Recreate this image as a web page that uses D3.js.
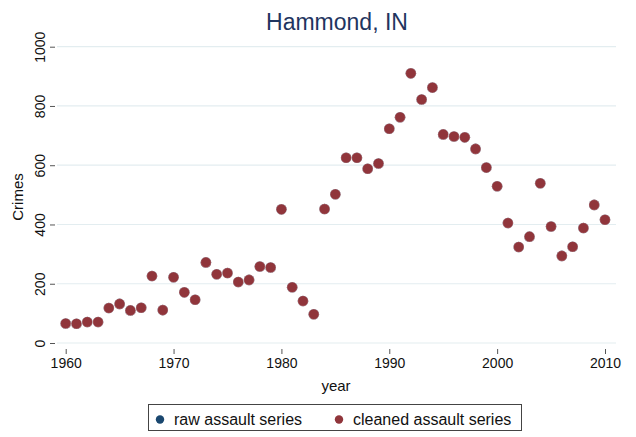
<!DOCTYPE html>
<html>
<head>
<meta charset="utf-8">
<script src="https://cdn.jsdelivr.net/npm/d3@7"></script>
<style>
  body { margin: 0; background: #fff; }
  svg { display: block; font-family: "Liberation Sans", Arial, sans-serif; }
</style>
</head>
<body>
<div class="chart"></div>
<script>
// data
const years = d3.range(1960, 2011)
const cleaned = [66, 65, 71, 71, 118, 132, 110, 119, 226, 111,
  222, 171, 146, 272, 232, 236, 206, 213, 258, 255,
  451, 188, 142, 97, 452, 502, 625, 625, 588, 606,
  723, 762, 910, 822, 862, 704, 697, 694, 655, 592,
  529, 405, 324, 359, 539, 393, 294, 325, 388, 466, 416]
// raw series sits under the cleaned one everywhere
const raw = cleaned.slice()
const yTicks = [0, 200, 400, 600, 800, 1000]
const xTicks = [1960, 1970, 1980, 1990, 2000, 2010]
const seriesNames = ["raw assault series", "cleaned assault series"]
const seriesColors = ["#1a476f", "#90353b"]

let width = 636
let height = 437

let x = d3.scaleLinear()
  .domain([1960, 2010])
  .range([65.7, 605])

let y = d3.scaleLinear()
  .domain([0, 1000])
  .range([343, 46.7])

const svg = d3.select('.chart').append("svg")
  .attr("width", width)
  .attr("height", height)

// gridlines
svg.append("g")
    .attr("stroke", "#e3edf0")
    .attr("stroke-width", 1.2)
  .selectAll("line")
  .data(yTicks)
  .join("line")
    .attr("x1", 57)
    .attr("x2", 616)
    .attr("y1", d => y(d))
    .attr("y2", d => y(d))

let xAxis = g => g
  .attr("transform", "translate(0,349)")
  .call(d3.axisBottom(x).tickValues(xTicks).tickSize(5).tickPadding(4).tickFormat(d3.format("d")))
  .call(g => g.select(".domain").remove())
  .call(g => g.selectAll(".tick line").attr("stroke", "#555"))
  .call(g => g.selectAll(".tick text").attr("font-size", 14).attr("fill", "#111"))

let yAxis = g => g
  .attr("transform", "translate(55,0)")
  .call(d3.axisLeft(y).tickValues(yTicks).tickSize(5).tickFormat(d3.format("d")))
  .call(g => g.select(".domain").remove())
  .call(g => g.selectAll(".tick line").attr("stroke", "#555"))
  .call(g => g.selectAll(".tick text")
    .attr("font-size", 14)
    .attr("fill", "#111")
    .attr("x", 0).attr("y", 0).attr("dy", 0)
    .attr("text-anchor", "middle")
    .attr("transform", "translate(-10,0) rotate(-90)"))

svg.append("g").call(xAxis)
svg.append("g").call(yAxis)

// axis titles
svg.append("text")
    .attr("transform", "translate(23,197) rotate(-90)")
    .attr("text-anchor", "middle")
    .attr("font-size", 15)
    .attr("fill", "#111")
    .text("Crimes")

svg.append("text")
    .attr("x", 336)
    .attr("y", 391)
    .attr("text-anchor", "middle")
    .attr("font-size", 15)
    .attr("fill", "#111")
    .text("year")

svg.append("text")
    .attr("x", 337)
    .attr("y", 30)
    .attr("text-anchor", "middle")
    .attr("font-size", 23)
    .attr("fill", "#1f3560")
    .text("Hammond, IN")

// points
const allSeries = [raw, cleaned]
allSeries.forEach((vals, si) => {
  svg.append("g")
      .attr("fill", seriesColors[si])
      .attr("stroke", "#fff")
      .attr("stroke-opacity", 0.5)
      .attr("stroke-width", 0.6)
    .selectAll("circle")
    .data(vals.map((v, i) => ({year: years[i], value: v})).filter(d => d.value != null))
    .join("circle")
      .attr("cx", d => x(d.year))
      .attr("cy", d => y(d.value))
      .attr("r", 5.3)
})

// legend
const legend = svg.append("g")
legend.append("rect")
    .attr("x", 148.5).attr("y", 404.5)
    .attr("width", 373).attr("height", 26)
    .attr("fill", "#fff")
    .attr("stroke", "#444")
    .attr("stroke-width", 1)

const legendX = [160, 339]
legend.selectAll("circle")
  .data(seriesNames)
  .join("circle")
    .attr("cx", (d, i) => legendX[i])
    .attr("cy", 419.5)
    .attr("r", 4.2)
    .attr("fill", (d, i) => seriesColors[i])

legend.selectAll("text")
  .data(seriesNames)
  .join("text")
    .attr("x", (d, i) => legendX[i] + 14)
    .attr("y", 425)
    .attr("font-size", 16)
    .attr("fill", "#111")
    .text(d => d)
</script>
</body>
</html>
